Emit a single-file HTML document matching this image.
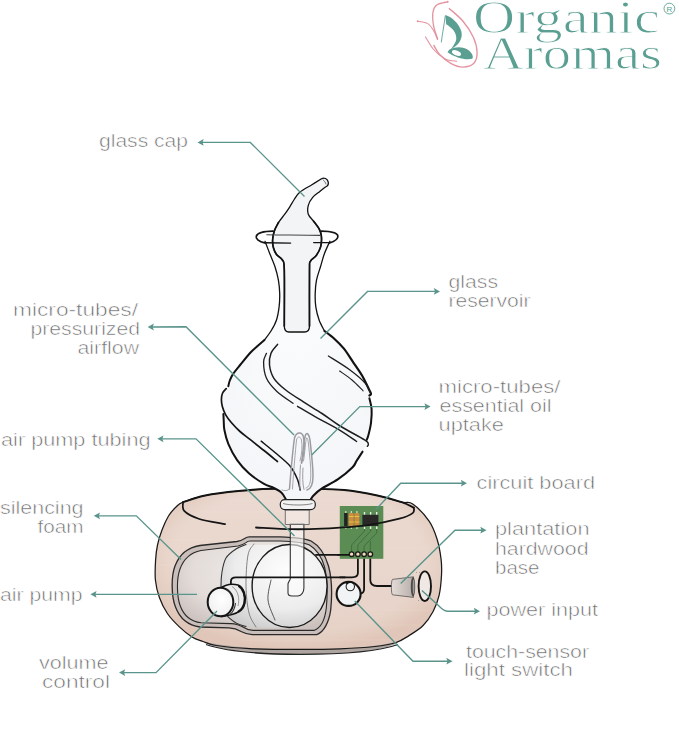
<!DOCTYPE html>
<html><head><meta charset="utf-8">
<style>
html,body{margin:0;padding:0;background:#fff;width:679px;height:748px;overflow:hidden}
svg{display:block}
.lb{font-family:"Liberation Sans",sans-serif;font-size:19px;fill:#6a6a6a;stroke:#fff;stroke-width:0.6;paint-order:normal;opacity:0.999}
.logo{font-family:"Liberation Serif",serif;font-size:46px;fill:#5a9f92;stroke:#fff;stroke-width:1.0}
.ln{fill:none;stroke:#5a948b;stroke-width:1.35;stroke-linejoin:miter}
.ar{fill:#5a948b}
.ol{fill:none;stroke:#121212;stroke-width:2.1;stroke-linecap:round;stroke-linejoin:round}
.md{fill:none;stroke:#141414;stroke-width:1.5;stroke-linecap:round;stroke-linejoin:round}
.th{fill:none;stroke:#1e1e1e;stroke-width:1.05;stroke-linecap:round}
.gt{fill:none;stroke:#9c9ca0;stroke-width:1.5;stroke-linecap:round;stroke-linejoin:round}
</style></head><body>
<svg width="679" height="748" viewBox="0 0 679 748">
<defs>
<linearGradient id="wood" x1="0" y1="0" x2="0" y2="1">
<stop offset="0" stop-color="#ebdad1"/><stop offset="0.5" stop-color="#e9d6cc"/><stop offset="1" stop-color="#e6d1c6"/>
</linearGradient>
<radialGradient id="woodEdge" cx="0.5" cy="0.45" r="0.55">
<stop offset="0.8" stop-color="#d9b9a8" stop-opacity="0"/><stop offset="1" stop-color="#d4b09e" stop-opacity="0.35"/>
</radialGradient>
<radialGradient id="glass" cx="0.5" cy="0.25" r="0.9">
<stop offset="0" stop-color="#fbfcfd"/><stop offset="1" stop-color="#f2f4f7"/>
</radialGradient>
<radialGradient id="foam" cx="0.55" cy="0.35" r="0.75">
<stop offset="0" stop-color="#f0edeb"/><stop offset="0.6" stop-color="#e3dcd9"/><stop offset="1" stop-color="#c6bcb8"/>
</radialGradient>
<radialGradient id="pump" cx="0.62" cy="0.3" r="0.8">
<stop offset="0" stop-color="#fdfdfd"/><stop offset="0.6" stop-color="#ececec"/><stop offset="1" stop-color="#c9c9c9"/>
</radialGradient>
<radialGradient id="knob" cx="0.55" cy="0.4" r="0.65">
<stop offset="0" stop-color="#ffffff"/><stop offset="0.8" stop-color="#f2f2f2"/><stop offset="1" stop-color="#d0d0d0"/>
</radialGradient>
<linearGradient id="cone" x1="0" y1="0" x2="1" y2="0">
<stop offset="0" stop-color="#e4dcd8"/><stop offset="1" stop-color="#b9aea9"/>
</linearGradient>
</defs>
<g id="logo">
<text class="logo" x="473" y="33.3" textLength="187" lengthAdjust="spacingAndGlyphs">Organic</text>
<text class="logo" x="483" y="69" textLength="179" lengthAdjust="spacingAndGlyphs">Aromas</text>
<circle cx="669.4" cy="8.6" r="5.4" fill="none" stroke="#5b9f92" stroke-width="0.9"/>
<text x="669.4" y="11.8" text-anchor="middle" font-family="Liberation Sans" font-size="8" fill="#5b9f92">R</text>
<path d="M447.70,1.80 C445.93,2.28 439.55,3.03 437.10,4.70 C434.65,6.37 433.58,8.27 433.00,11.80 C432.42,15.33 432.82,21.38 433.60,25.90 C434.38,30.42 437.02,36.73 437.70,38.90" fill="none" stroke="#e4939f" stroke-width="1.3"/>
<path d="M417.70,21.20 C419.37,21.60 425.05,22.03 427.70,23.60 C430.35,25.17 431.93,27.87 433.60,30.60 C435.27,33.33 437.02,38.43 437.70,40.00" fill="none" stroke="#e4939f" stroke-width="1.1"/>
<path d="M448.90,8.20 C451.25,10.37 458.88,16.28 463.00,21.20 C467.12,26.12 471.25,32.40 473.60,37.70 C475.95,43.00 477.10,48.68 477.10,53.00 C477.10,57.32 475.95,61.25 473.60,63.60 C471.25,65.95 466.73,67.10 463.00,67.10 C459.27,67.10 455.13,65.75 451.20,63.60 C447.27,61.45 442.33,57.33 439.40,54.20 C436.47,51.07 434.57,46.37 433.60,44.80" fill="none" stroke="#e4939f" stroke-width="1.35"/>
<path d="M425.30,36.50 C426.68,38.67 430.27,45.77 433.60,49.50 C436.93,53.23 441.38,56.95 445.30,58.90 C449.22,60.85 455.13,60.82 457.10,61.20" fill="none" stroke="#e4939f" stroke-width="1.1"/>
<circle cx="447.7" cy="1.8" r="1" fill="#e4939f"/><circle cx="417.7" cy="21.2" r="1" fill="#e4939f"/>
<path d="M445.3,15.1 C452,17 459.5,24 461.5,32 C463,40 457.5,46 450.8,49.2 C453.5,45.5 456.5,41.5 456.3,37.9 C456,32 453,28.5 446.2,24.2 Z" fill="#5b9f92"/>
<path d="M449.5,49.5 C455,46.5 463,46 469,50.5 C472.5,53.5 473.8,57.5 472,58.8 C466,60.5 455,57.5 447.5,52.2 C448.2,51 448.8,50.2 449.5,49.5 Z" fill="#5b9f92"/>
<ellipse cx="456.5" cy="53" rx="4.8" ry="2.4" transform="rotate(22 456.5 53)" fill="#fff"/>
<path d="M445.3,15.5 C444.3,24 442.3,34 441.3,42.4" fill="none" stroke="#5b9f92" stroke-width="0.9"/>
</g>
<path d="M183.10,502.10 C187.97,500.18 195.98,497.35 205.20,495.50 C214.42,493.65 227.35,492.12 238.40,491.00 C249.45,489.88 259.77,489.17 271.50,488.80 C283.23,488.43 296.68,488.60 308.80,488.80 C320.92,489.00 332.78,488.88 344.20,490.00 C355.62,491.12 367.73,493.48 377.30,495.50 C386.87,497.52 395.70,500.68 401.60,502.10 C407.50,503.52 408.12,500.83 412.70,504.00 C417.28,507.17 425.03,515.23 429.10,521.10 C433.17,526.97 435.10,532.83 437.10,539.20 C439.10,545.57 440.37,553.28 441.10,559.30 C441.83,565.32 441.83,569.28 441.50,575.30 C441.17,581.32 440.50,589.37 439.10,595.40 C437.70,601.43 435.77,606.48 433.10,611.50 C430.43,616.52 427.12,621.48 423.10,625.50 C419.08,629.52 413.52,632.77 409.00,635.60 C404.48,638.43 401.67,640.68 396.00,642.50 C390.33,644.32 384.33,645.45 375.00,646.50 C365.67,647.55 352.50,648.32 340.00,648.80 C327.50,649.28 315.10,649.43 300.00,649.40 C284.90,649.37 263.35,649.25 249.40,648.60 C235.45,647.95 224.03,646.68 216.30,645.50 C208.57,644.32 207.05,642.92 203.00,641.50 C198.95,640.08 195.93,639.43 192.00,637.00 C188.07,634.57 183.50,630.82 179.40,626.90 C175.30,622.98 170.73,618.40 167.40,613.50 C164.07,608.60 161.40,603.08 159.40,597.50 C157.40,591.92 156.03,586.25 155.40,580.00 C154.77,573.75 155.25,565.83 155.60,560.00 C155.95,554.17 156.43,550.00 157.50,545.00 C158.57,540.00 160.17,534.83 162.00,530.00 C163.83,525.17 166.17,519.83 168.50,516.00 C170.83,512.17 173.57,509.32 176.00,507.00 C178.43,504.68 178.23,504.02 183.10,502.10 Z" fill="url(#wood)"/>
<path d="M183.10,502.10 C187.97,500.18 195.98,497.35 205.20,495.50 C214.42,493.65 227.35,492.12 238.40,491.00 C249.45,489.88 259.77,489.17 271.50,488.80 C283.23,488.43 296.68,488.60 308.80,488.80 C320.92,489.00 332.78,488.88 344.20,490.00 C355.62,491.12 367.73,493.48 377.30,495.50 C386.87,497.52 395.70,500.68 401.60,502.10 C407.50,503.52 408.12,500.83 412.70,504.00 C417.28,507.17 425.03,515.23 429.10,521.10 C433.17,526.97 435.10,532.83 437.10,539.20 C439.10,545.57 440.37,553.28 441.10,559.30 C441.83,565.32 441.83,569.28 441.50,575.30 C441.17,581.32 440.50,589.37 439.10,595.40 C437.70,601.43 435.77,606.48 433.10,611.50 C430.43,616.52 427.12,621.48 423.10,625.50 C419.08,629.52 413.52,632.77 409.00,635.60 C404.48,638.43 401.67,640.68 396.00,642.50 C390.33,644.32 384.33,645.45 375.00,646.50 C365.67,647.55 352.50,648.32 340.00,648.80 C327.50,649.28 315.10,649.43 300.00,649.40 C284.90,649.37 263.35,649.25 249.40,648.60 C235.45,647.95 224.03,646.68 216.30,645.50 C208.57,644.32 207.05,642.92 203.00,641.50 C198.95,640.08 195.93,639.43 192.00,637.00 C188.07,634.57 183.50,630.82 179.40,626.90 C175.30,622.98 170.73,618.40 167.40,613.50 C164.07,608.60 161.40,603.08 159.40,597.50 C157.40,591.92 156.03,586.25 155.40,580.00 C154.77,573.75 155.25,565.83 155.60,560.00 C155.95,554.17 156.43,550.00 157.50,545.00 C158.57,540.00 160.17,534.83 162.00,530.00 C163.83,525.17 166.17,519.83 168.50,516.00 C170.83,512.17 173.57,509.32 176.00,507.00 C178.43,504.68 178.23,504.02 183.10,502.10 Z" fill="url(#woodEdge)"/>
<path d="M230,500 L380,500" stroke="#fbf2ec" stroke-opacity="0.125" stroke-width="1.5"/>
<path d="M200,512 L400,512" stroke="#fbf2ec" stroke-opacity="0.1" stroke-width="1.5"/>
<path d="M165,540 L230,540" stroke="#fbf2ec" stroke-opacity="0.1" stroke-width="1.5"/>
<path d="M340,548 L430,548" stroke="#fbf2ec" stroke-opacity="0.09" stroke-width="1.5"/>
<path d="M160,565 L175,565" stroke="#fbf2ec" stroke-opacity="0.1" stroke-width="1.5"/>
<path d="M350,610 L430,610" stroke="#fbf2ec" stroke-opacity="0.09" stroke-width="1.5"/>
<path d="M380,625 L420,625" stroke="#fbf2ec" stroke-opacity="0.075" stroke-width="1.5"/>
<path d="M240,640 L400,640" stroke="#fbf2ec" stroke-opacity="0.09" stroke-width="1.5"/>
<path d="M203,641.5 C228,647 262,649.4 300,649.4 C345,649.4 378,647 400,641 C390,650 350,654.5 300,654.5 C255,654.5 220,651 203,641.5 Z" fill="#aea4a0"/>
<path d="M183.10,502.10 C187.97,500.18 195.98,497.35 205.20,495.50 C214.42,493.65 227.35,492.12 238.40,491.00 C249.45,489.88 259.77,489.17 271.50,488.80 C283.23,488.43 296.68,488.60 308.80,488.80 C320.92,489.00 332.78,488.88 344.20,490.00 C355.62,491.12 367.73,493.48 377.30,495.50 C386.87,497.52 395.70,500.68 401.60,502.10 C407.50,503.52 408.12,500.83 412.70,504.00 C417.28,507.17 425.03,515.23 429.10,521.10 C433.17,526.97 435.10,532.83 437.10,539.20 C439.10,545.57 440.37,553.28 441.10,559.30 C441.83,565.32 441.83,569.28 441.50,575.30 C441.17,581.32 440.50,589.37 439.10,595.40 C437.70,601.43 435.77,606.48 433.10,611.50 C430.43,616.52 427.12,621.48 423.10,625.50 C419.08,629.52 413.52,632.77 409.00,635.60 C404.48,638.43 401.67,640.68 396.00,642.50 C390.33,644.32 384.33,645.45 375.00,646.50 C365.67,647.55 352.50,648.32 340.00,648.80 C327.50,649.28 315.10,649.43 300.00,649.40 C284.90,649.37 263.35,649.25 249.40,648.60 C235.45,647.95 224.03,646.68 216.30,645.50 C208.57,644.32 207.05,642.92 203.00,641.50 C198.95,640.08 195.93,639.43 192.00,637.00 C188.07,634.57 183.50,630.82 179.40,626.90 C175.30,622.98 170.73,618.40 167.40,613.50 C164.07,608.60 161.40,603.08 159.40,597.50 C157.40,591.92 156.03,586.25 155.40,580.00 C154.77,573.75 155.25,565.83 155.60,560.00 C155.95,554.17 156.43,550.00 157.50,545.00 C158.57,540.00 160.17,534.83 162.00,530.00 C163.83,525.17 166.17,519.83 168.50,516.00 C170.83,512.17 173.57,509.32 176.00,507.00 C178.43,504.68 178.23,504.02 183.10,502.10 Z" fill="none" stroke="#1a1a1a" stroke-width="1.25"/>
<path d="M206,644.5 C228,652 262,654.3 300,654.3 C345,654.3 380,651 398,644.5" fill="none" stroke="#222" stroke-width="1.3"/>
<path d="M183.10,502.10 C186.78,501.00 195.98,497.35 205.20,495.50 C214.42,493.65 227.35,492.12 238.40,491.00 C249.45,489.88 259.77,489.17 271.50,488.80 C283.23,488.43 296.68,488.60 308.80,488.80 C320.92,489.00 332.78,488.88 344.20,490.00 C355.62,491.12 367.73,493.48 377.30,495.50 C386.87,497.52 395.52,500.08 401.60,502.10 C407.68,504.12 411.77,506.68 413.80,507.60" class="md" style="stroke-width:1.9"/>
<path d="M183.10,502.10 C183.28,503.57 181.62,508.13 184.20,510.90 C186.78,513.67 191.78,516.48 198.60,518.70 C205.42,520.92 220.68,523.28 225.10,524.20" class="md" style="stroke-width:1.7"/>
<path d="M249.5,536.8 L280,536.8 C296,537.5 306,538.5 311.1,541 C320,546 325,554 328.5,566 C331.5,577 332.5,592 330.7,610 C329,622 324,632 316.7,634.7 L252.3,634.7 C247,634.5 244,633 241.1,631.5 C237,629 234,628 229,627.8 L200,627 C189,625.5 180,619 175.5,607 C171.5,597 170.8,577 175,566 C180,553 188,547.5 200,545.5 L237,541.5 C241,540.8 243,539.5 245,538.3 C246.5,537.2 248,536.8 249.5,536.8 Z" fill="#c9beba" stroke="#2a2a2a" stroke-width="1.3"/>
<path d="M250,541 L280,541 C295,541.5 304,542.5 309.5,545 C317,549.5 321.5,556 324.5,567 C327,577 327.8,592 326.3,608 C325,619 321,628 314,630.4 L253,630.4 C248,630 245.5,628.8 243,627 C239.5,624.8 236,623.8 231,623.6 L201,622.8 C191,621.5 184,616 180.3,606 C176.8,597 176.3,579 180,569 C184,558 191,552.5 201,550.5 L238,546 C242,545.4 244,544 246,542.6 C247.3,541.5 248.6,541 250,541 Z" fill="url(#foam)" stroke="#2a2a2a" stroke-width="1.1"/>
<path d="M222,566 C226,553 235,546 250,545 L290,544.6 C312,546 327,564 327,586 C327,608 312,627 290,628 L250,627 C236,626 226,620 222,609 C219,597 219,578 222,566 Z" fill="url(#pump)"/>
<path d="M246.00,544.50 C244.33,545.25 239.33,546.75 236.00,549.00 C232.67,551.25 228.33,554.17 226.00,558.00 C223.67,561.83 222.83,567.33 222.00,572.00 C221.17,576.67 221.00,581.33 221.00,586.00 C221.00,590.67 221.17,595.33 222.00,600.00 C222.83,604.67 223.67,610.17 226.00,614.00 C228.33,617.83 232.67,620.92 236.00,623.00 C239.33,625.08 244.33,625.92 246.00,626.50" class="th" style="stroke:#333"/>
<path d="M254.00,544.00 C253.00,545.83 249.33,548.00 248.00,555.00 C246.67,562.00 245.83,576.33 246.00,586.00 C246.17,595.67 247.33,606.17 249.00,613.00 C250.67,619.83 254.83,624.67 256.00,627.00" class="th" style="stroke:#666;stroke-width:0.8"/>
<ellipse cx="289.6" cy="586" rx="37.5" ry="41.5" fill="none" stroke="#1a1a1a" stroke-width="1.4"/>
<path d="M271.00,580.00 C270.50,583.33 267.33,593.33 268.00,600.00 C268.67,606.67 273.83,616.67 275.00,620.00" class="th" style="stroke:#444;stroke-width:0.9"/>
<path d="M290.3,524 L290.3,578.5 C290.3,580.5 288,581.5 288,584.5 L288,593 C288,595.5 289.5,596 292,596 L298,596 C301.5,595.5 303.9,592 303.9,588 L303.9,524 Z" fill="#fbfbfb" fill-opacity="0.6" stroke="#333" stroke-width="1.1"/>
<path d="M285.3,510 L285.3,524.5 L309.2,524.5 L309.2,510 Z" fill="#f6efec" fill-opacity="0.55" stroke="#666" stroke-width="0.9"/>
<path d="M345,577.3 L236,577.3 C232.5,577.3 230.9,578.5 230.9,581.5 L230.9,584" class="md" style="stroke-width:1.8"/>
<path d="M316,554.8 L349.5,554.8" class="md" style="stroke-width:1.8"/>
<path d="M357.9,556 L357.9,573 C357.9,576 356,577.3 352,577.3 L340,577.3" class="md" style="stroke-width:1.8"/>
<path d="M364.1,556 L364.1,589 C364.1,592 362.5,593.5 360,593.5" class="md" style="stroke-width:1.8"/>
<path d="M370.3,556 L370.3,580 C370.3,584 373,586 377,586 L392,586" class="md" style="stroke-width:1.8"/>
<rect x="339.8" y="506" width="43.5" height="52.8" fill="#5a8c54"/>
<rect x="344.1" y="513" width="3.5" height="13" fill="#222"/>
<rect x="348.9" y="513" width="4.8" height="13" rx="1.2" fill="#d08a3a"/><rect x="354.5" y="513" width="4.8" height="13" rx="1.2" fill="#d08a3a"/>
<path d="M348.9,516.5 h4.8 M348.9,522 h4.8 M354.5,516.5 h4.8 M354.5,522 h4.8" stroke="#e6c24a" stroke-width="1.1"/>
<rect x="362.4" y="514.8" width="16" height="11.2" fill="#2a2727"/>
<rect x="363.8" y="512" width="1.4" height="2.6" fill="#e8efe4"/><rect x="363.8" y="526.4" width="1.4" height="2.6" fill="#e8efe4"/>
<rect x="369.90000000000003" y="512" width="1.4" height="2.6" fill="#e8efe4"/><rect x="369.90000000000003" y="526.4" width="1.4" height="2.6" fill="#e8efe4"/>
<rect x="376.0" y="512" width="1.4" height="2.6" fill="#e8efe4"/><rect x="376.0" y="526.4" width="1.4" height="2.6" fill="#e8efe4"/>
<rect x="345.2" y="511" width="1.2" height="2" fill="#cfe0c8"/><rect x="345.2" y="527" width="1.2" height="2" fill="#cfe0c8"/>
<rect x="350.7" y="511" width="1.2" height="2" fill="#cfe0c8"/><rect x="350.7" y="527" width="1.2" height="2" fill="#cfe0c8"/>
<rect x="356.29999999999995" y="511" width="1.2" height="2" fill="#cfe0c8"/><rect x="356.29999999999995" y="527" width="1.2" height="2" fill="#cfe0c8"/>
<path d="M351.6,552 L351.6,545 L364.5,531 L364.5,529 M357.9,552 L357.9,545 L370.6,531 L370.6,529 M364.1,552 L364.1,546 L376.7,533 L376.7,529 M370.3,552 L370.3,541" fill="none" stroke="#2f5e2c" stroke-width="0.6"/>
<path d="M338,554.8 L349.5,554.8" class="md" style="stroke-width:1.8"/>
<path d="M256.00,527.50 C261.90,527.78 280.38,529.02 291.40,529.20 C302.42,529.38 309.62,529.25 322.10,528.60 C334.58,527.95 353.42,526.95 366.30,525.30 C379.18,523.65 391.67,520.73 399.40,518.70 C407.13,516.67 410.30,514.95 412.70,513.10 C415.10,511.25 413.62,508.52 413.80,507.60" class="md" style="stroke-width:1.8"/>
<circle cx="351.6" cy="554.2" r="2.3" fill="#f0dcb8" stroke="#1a1a1a" stroke-width="1.3"/>
<circle cx="357.9" cy="554.2" r="2.3" fill="#f0dcb8" stroke="#1a1a1a" stroke-width="1.3"/>
<circle cx="364.1" cy="554.2" r="2.3" fill="#f0dcb8" stroke="#1a1a1a" stroke-width="1.3"/>
<circle cx="370.3" cy="554.2" r="2.3" fill="#f0dcb8" stroke="#1a1a1a" stroke-width="1.3"/>
<circle cx="348.6" cy="593.9" r="12" fill="#f1f3f5" stroke="#141414" stroke-width="2.1"/>
<circle cx="350.3" cy="586.6" r="4.2" fill="#f4f6f8" stroke="#222" stroke-width="1.1"/>
<path d="M346.5,584 C348,581.5 352,581.5 354,583.5" fill="none" stroke="#141414" stroke-width="1.6"/>
<path d="M392.5,579.4 L413.5,576.8 L413.5,597.4 L392.5,594.8 C391,594 391,580.5 392.5,579.4 Z" fill="url(#cone)" stroke="#555" stroke-width="0.8"/>
<ellipse cx="413" cy="586.8" rx="2.2" ry="9.8" fill="#4a4a4a"/>
<ellipse cx="413.6" cy="586.8" rx="0.9" ry="7.5" fill="#9a9a9a"/>
<ellipse cx="424.8" cy="586.2" rx="6.2" ry="14.8" fill="#efe8e5" stroke="#141414" stroke-width="1.9"/>
<path d="M416,572.5 h1 M419,572.5 h1 M418,600.5 h1 M421,600.5 h1" stroke="#888" stroke-width="0.7"/>
<path d="M219,589 C225,584.5 232,583.2 238,585 C243.5,587.5 246,596 244.5,603 C243,609.5 238,613 232,614.5 L222,616.5 Z" fill="#ececec" stroke="#141414" stroke-width="1.5"/>
<path d="M238.5,585.8 C243.5,588.5 246,596 244.5,603 C243.5,607.5 241,610.5 238,612" fill="none" stroke="#141414" stroke-width="2.4"/>
<path d="M232,586.5 C238,590 240,599 238,606" fill="none" stroke="#777" stroke-width="0.7"/>
<ellipse cx="220.5" cy="602" rx="12.8" ry="14.3" fill="url(#knob)" stroke="#141414" stroke-width="2"/>
<path d="M226.5,589.5 C230,591.5 231.5,595 231.5,597" fill="none" stroke="#444" stroke-width="0.8"/>
<path d="M235.5,603 C235,608 233,612 230,614.5" fill="none" stroke="#333" stroke-width="1.1"/>
<path d="M265.00,241.30 C265.78,243.32 268.03,249.17 269.70,253.40 C271.37,257.63 273.55,262.25 275.00,266.70 C276.45,271.15 277.62,275.63 278.40,280.10 C279.18,284.57 279.58,289.05 279.70,293.50 C279.82,297.95 279.65,302.35 279.10,306.80 C278.55,311.25 277.75,316.17 276.40,320.20 C275.05,324.23 273.00,327.70 271.00,331.00 C269.00,334.30 266.73,337.42 264.40,340.00 C262.07,342.58 259.35,344.38 257.00,346.50 C254.65,348.62 253.05,349.70 250.30,352.70 C247.55,355.70 243.37,360.97 240.50,364.50 C237.63,368.03 234.88,371.23 233.10,373.90 C231.32,376.57 230.60,378.45 229.80,380.50 C229.00,382.55 229.50,384.12 228.30,386.20 C227.10,388.28 223.75,390.80 222.60,393.00 C221.45,395.20 221.43,397.10 221.40,399.40 C221.37,401.70 222.07,404.35 222.40,406.80 C222.73,409.25 223.18,411.88 223.40,414.10 C223.62,416.32 223.53,417.45 223.70,420.10 C223.87,422.75 223.63,426.03 224.40,430.00 C225.17,433.97 226.18,438.88 228.30,443.90 C230.42,448.92 233.67,455.20 237.10,460.10 C240.53,465.00 244.48,469.38 248.90,473.30 C253.32,477.22 259.43,481.15 263.60,483.60 C267.77,486.05 270.95,486.52 273.90,488.00 C276.85,489.48 279.33,490.67 281.30,492.50 C283.27,494.33 280.75,497.92 285.70,499.00 C290.65,500.08 306.28,499.67 311.00,499.00 C315.72,498.33 312.28,496.70 314.00,495.00 C315.72,493.30 317.28,491.43 321.30,488.80 C325.32,486.17 332.88,482.80 338.10,479.20 C343.32,475.60 349.53,470.23 352.60,467.20 C355.67,464.17 354.85,463.58 356.50,461.00 C358.15,458.42 360.92,454.37 362.50,451.70 C364.08,449.03 365.30,446.97 366.00,445.00 C366.70,443.03 366.32,441.47 366.70,439.90 C367.08,438.33 367.58,438.45 368.30,435.60 C369.02,432.75 370.45,427.25 371.00,422.80 C371.55,418.35 371.87,413.00 371.60,408.90 C371.33,404.80 369.50,400.70 369.40,398.20 C369.30,395.70 371.00,395.23 371.00,393.90 C371.00,392.57 370.87,393.23 369.40,390.20 C367.93,387.17 365.00,380.52 362.20,375.70 C359.40,370.88 355.68,365.85 352.60,361.30 C349.52,356.75 346.80,352.20 343.70,348.40 C340.60,344.60 337.20,341.40 334.00,338.50 C330.80,335.60 326.97,334.05 324.50,331.00 C322.03,327.95 320.65,324.23 319.20,320.20 C317.75,316.17 316.47,311.25 315.80,306.80 C315.13,302.35 315.08,297.95 315.20,293.50 C315.32,289.05 315.62,284.57 316.50,280.10 C317.38,275.63 319.17,271.15 320.50,266.70 C321.83,262.25 322.93,257.63 324.50,253.40 C326.07,249.17 329.00,243.32 329.90,241.30 Z" fill="url(#glass)"/>
<path d="M265.00,241.30 C265.78,243.32 268.03,249.17 269.70,253.40 C271.37,257.63 273.55,262.25 275.00,266.70 C276.45,271.15 277.62,275.63 278.40,280.10 C279.18,284.57 279.58,289.05 279.70,293.50 C279.82,297.95 279.65,302.35 279.10,306.80 C278.55,311.25 277.75,316.17 276.40,320.20 C275.05,324.23 273.00,327.70 271.00,331.00 C269.00,334.30 265.50,338.50 264.40,340.00" class="ol" style="stroke-width:1.3"/>
<path d="M264.40,340.00 C263.17,341.08 259.35,344.38 257.00,346.50 C254.65,348.62 253.05,349.70 250.30,352.70 C247.55,355.70 243.37,360.97 240.50,364.50 C237.63,368.03 234.88,371.23 233.10,373.90 C231.32,376.57 230.60,378.45 229.80,380.50 C229.00,382.55 228.55,385.25 228.30,386.20" class="ol" style="stroke-width:2"/>
<path d="M223.40,414.10 C223.45,415.10 223.53,417.45 223.70,420.10 C223.87,422.75 223.63,426.03 224.40,430.00 C225.17,433.97 226.18,438.88 228.30,443.90 C230.42,448.92 233.67,455.20 237.10,460.10 C240.53,465.00 244.48,469.38 248.90,473.30 C253.32,477.22 259.43,481.15 263.60,483.60 C267.77,486.05 270.95,486.52 273.90,488.00 C276.85,489.48 279.33,490.67 281.30,492.50 C283.27,494.33 284.97,497.92 285.70,499.00" class="ol" style="stroke-width:2"/>
<path d="M311.00,499.00 C311.50,498.33 312.28,496.70 314.00,495.00 C315.72,493.30 317.28,491.43 321.30,488.80 C325.32,486.17 332.88,482.80 338.10,479.20 C343.32,475.60 349.53,470.23 352.60,467.20 C355.67,464.17 354.85,463.58 356.50,461.00 C358.15,458.42 361.50,453.25 362.50,451.70" class="ol" style="stroke-width:2.1"/>
<path d="M366.70,439.90 C366.97,439.18 367.58,438.45 368.30,435.60 C369.02,432.75 370.45,427.25 371.00,422.80 C371.55,418.35 371.87,413.00 371.60,408.90 C371.33,404.80 369.77,399.98 369.40,398.20" class="ol" style="stroke-width:2"/>
<path d="M369.40,395.50 C369.67,395.23 371.00,394.78 371.00,393.90 C371.00,393.02 370.87,393.23 369.40,390.20 C367.93,387.17 365.00,380.52 362.20,375.70 C359.40,370.88 355.68,365.85 352.60,361.30 C349.52,356.75 346.80,352.20 343.70,348.40 C340.60,344.60 337.20,341.40 334.00,338.50 C330.80,335.60 326.08,332.25 324.50,331.00" class="ol" style="stroke-width:2.2"/>
<path d="M324.50,331.00 C323.62,329.20 320.65,324.23 319.20,320.20 C317.75,316.17 316.47,311.25 315.80,306.80 C315.13,302.35 315.08,297.95 315.20,293.50 C315.32,289.05 315.62,284.57 316.50,280.10 C317.38,275.63 319.17,271.15 320.50,266.70 C321.83,262.25 322.93,257.63 324.50,253.40 C326.07,249.17 329.00,243.32 329.90,241.30" class="ol" style="stroke-width:1.3"/>
<path d="M266.50,353.30 C266.02,354.77 263.60,357.93 263.60,362.10 C263.60,366.27 264.28,373.40 266.50,378.30 C268.72,383.20 272.48,387.33 276.90,391.50 C281.32,395.67 290.32,401.33 293.00,403.30" class="th" style="stroke-width:1.3"/>
<path d="M297.50,406.30 C300.42,408.02 307.92,412.60 315.00,416.60 C322.08,420.60 333.07,426.15 340.00,430.30 C346.93,434.45 353.83,439.63 356.60,441.50" class="th" style="stroke-width:1.4"/>
<path d="M277.60,344.40 C276.50,345.88 272.35,349.87 271.00,353.30 C269.65,356.73 269.02,360.83 269.50,365.00 C269.98,369.17 271.20,374.13 273.90,378.30 C276.60,382.47 280.78,386.07 285.70,390.00 C290.62,393.93 297.35,397.98 303.40,401.90 C309.45,405.82 315.90,409.48 322.00,413.50 C328.10,417.52 332.90,421.60 340.00,426.00 C347.10,430.40 359.88,436.87 364.60,439.90 C369.32,442.93 367.85,443.13 368.30,444.20 C368.75,445.27 367.47,445.95 367.30,446.30" class="th" style="stroke-width:1.5"/>
<path d="M328.40,356.00 C332.00,358.33 343.85,365.45 350.00,370.00 C356.15,374.55 361.87,379.40 365.30,383.30 C368.73,387.20 369.72,391.72 370.60,393.40" class="th" style="stroke-width:1.3"/>
<path d="M339.60,371.00 C341.67,372.50 348.08,376.70 352.00,380.00 C355.92,383.30 361.25,389.00 363.10,390.80" class="th" style="stroke-width:1.1"/>
<path d="M226.20,388.60 C225.60,389.33 223.40,391.20 222.60,393.00 C221.80,394.80 221.43,397.10 221.40,399.40 C221.37,401.70 221.68,404.23 222.40,406.80 C223.12,409.37 224.22,412.18 225.70,414.80 C227.18,417.42 228.92,419.72 231.30,422.50 C233.68,425.28 236.88,428.68 240.00,431.50 C243.12,434.32 246.00,436.23 250.00,439.40 C254.00,442.57 259.43,446.82 264.00,450.50 C268.57,454.18 275.17,459.67 277.40,461.50" class="md" style="stroke-width:1.7"/>
<path d="M261.20,441.20 C263.50,443.08 270.20,448.37 275.00,452.50 C279.80,456.63 286.25,461.50 290.00,466.00 C293.75,470.50 295.80,475.50 297.50,479.50 C299.20,483.50 299.75,488.25 300.20,490.00" class="md" style="stroke-width:1.5"/>
<path d="M289.5,489 C291,470 293,448 294.5,438 C296,432 302,431 303.5,437 C305,445 304,455 301.5,463" class="gt"/>
<path d="M292.5,489 C293.5,472 295.5,450 296.5,440 C297.5,436 300.5,436 301.5,440 C302.5,446 302,454 300,461" class="gt" style="stroke-width:0.9"/>
<path d="M301.5,463 C303,455 303.5,440 305.5,435 C307,432 309,434 310,440 C311,450 313,465 313,476 C313,484 311,489 307,490" class="gt"/>
<path d="M303.5,461 C305,452 305.5,441 306.5,438 C307.5,437 308,440 308.5,444 C309.5,455 311,466 310.8,476 C310.5,484 309,487 306,488" class="gt" style="stroke-width:0.9"/>
<path d="M300.5,465 C300,472 299.5,480 300,489 M303,468 C302.5,476 302.5,484 304,489.5" class="gt" style="stroke-width:1"/>
<path d="M289.5,489 C287.5,491 284,491 282,490" class="gt" style="stroke-width:0.9"/>
<rect x="280.3" y="499.6" width="35" height="10" rx="4.5" fill="#f2f2f2" stroke="#222" stroke-width="1.2"/>
<path d="M283,503.5 C290,505.5 306,505.5 312.5,503.5" fill="none" stroke="#666" stroke-width="0.8"/>
<path d="M321.50,178.80 C319.90,179.78 315.48,182.50 311.90,184.70 C308.32,186.90 302.95,189.53 300.00,192.00 C297.05,194.47 295.90,197.03 294.20,199.50 C292.50,201.97 291.37,204.35 289.80,206.80 C288.23,209.25 286.68,211.58 284.80,214.20 C282.92,216.82 280.25,219.70 278.50,222.50 C276.75,225.30 275.28,228.08 274.30,231.00 C273.32,233.92 272.73,237.17 272.60,240.00 C272.47,242.83 272.85,245.58 273.50,248.00 C274.15,250.42 275.02,252.50 276.50,254.50 C277.98,256.50 281.10,257.42 282.40,260.00 C283.70,262.58 283.98,259.00 284.30,270.00 C284.62,281.00 284.30,316.67 284.30,326.00 C284.3,330 286,332 289,332 L304.5,332 C307.5,332 309.5,330 309.5,326 C309.50,316.67 309.35,280.78 309.50,270.00 C309.65,259.22 309.27,263.73 310.40,261.30 C311.53,258.87 314.58,257.85 316.30,255.40 C318.02,252.95 319.85,249.78 320.70,246.60 C321.55,243.42 321.65,239.23 321.40,236.30 C321.15,233.37 320.50,231.52 319.20,229.00 C317.90,226.48 315.42,223.67 313.60,221.20 C311.78,218.73 309.18,216.85 308.30,214.20 C307.42,211.55 307.57,208.10 308.30,205.30 C309.03,202.50 310.78,199.70 312.70,197.40 C314.62,195.10 317.67,193.23 319.80,191.50 C321.93,189.77 324.55,187.75 325.50,187.00 C327,186.5 328.8,185 328.2,182 C327.5,178.5 324,177.2 321.5,178.8 Z" fill="#f2f4f6"/>
<path d="M321.50,178.80 C319.90,179.78 315.48,182.50 311.90,184.70 C308.32,186.90 302.95,189.53 300.00,192.00 C297.05,194.47 295.90,197.03 294.20,199.50 C292.50,201.97 291.37,204.35 289.80,206.80 C288.23,209.25 286.68,211.58 284.80,214.20 C282.92,216.82 280.25,219.70 278.50,222.50 C276.75,225.30 275.28,228.08 274.30,231.00 C273.32,233.92 272.73,237.17 272.60,240.00 C272.47,242.83 272.85,245.58 273.50,248.00 C274.15,250.42 275.02,252.50 276.50,254.50 C277.98,256.50 281.10,257.42 282.40,260.00 C283.70,262.58 283.98,259.00 284.30,270.00 C284.62,281.00 284.30,316.67 284.30,326.00 C284.3,330 286,332 289,332 L304.5,332 C307.5,332 309.5,330 309.5,326 C309.50,316.67 309.35,280.78 309.50,270.00 C309.65,259.22 309.27,263.73 310.40,261.30 C311.53,258.87 314.58,257.85 316.30,255.40 C318.02,252.95 319.85,249.78 320.70,246.60 C321.55,243.42 321.65,239.23 321.40,236.30 C321.15,233.37 320.50,231.52 319.20,229.00 C317.90,226.48 315.42,223.67 313.60,221.20 C311.78,218.73 309.18,216.85 308.30,214.20 C307.42,211.55 307.57,208.10 308.30,205.30 C309.03,202.50 310.78,199.70 312.70,197.40 C314.62,195.10 317.67,193.23 319.80,191.50 C321.93,189.77 324.55,187.75 325.50,187.00 C327,186.5 328.8,185 328.2,182 C327.5,178.5 324,177.2 321.5,178.8 Z" class="ol" style="stroke-width:1.3"/>
<path d="M278.50,222.50 C277.80,223.92 275.28,228.08 274.30,231.00 C273.32,233.92 272.73,237.17 272.60,240.00 C272.47,242.83 272.85,245.58 273.50,248.00 C274.15,250.42 275.02,252.50 276.50,254.50 C277.98,256.50 281.10,257.42 282.40,260.00 C283.70,262.58 283.98,259.00 284.30,270.00 C284.62,281.00 284.30,316.67 284.30,326.00" class="ol" style="stroke-width:1.7"/>
<path d="M309.50,326.00 C309.50,316.67 309.35,280.78 309.50,270.00 C309.65,259.22 309.27,263.73 310.40,261.30 C311.53,258.87 314.58,257.85 316.30,255.40 C318.02,252.95 319.85,249.78 320.70,246.60 C321.55,243.42 321.65,239.23 321.40,236.30 C321.15,233.37 320.50,231.52 319.20,229.00 C317.90,226.48 314.53,222.50 313.60,221.20" class="ol" style="stroke-width:1.7"/>
<path d="M322.8,179.6 C324.5,181 325.6,182.6 326,184.4" fill="none" stroke="#555" stroke-width="0.8"/>
<path d="M265.4,243.1 C258,241.5 255.5,238.5 256.3,236.1 C257.5,232.8 265,231.3 273,231.2" class="md" style="stroke-width:1.7"/>
<path d="M321.5,231.2 C330,231.3 337.3,233 337.9,236.1 C338.3,239 334,241.5 329,243.1" class="md" style="stroke-width:1.7"/>
<path d="M266.8,234.7 C285,235 305,235 320,235.4" class="th" style="stroke:#444;stroke-width:1.1"/>
<path d="M266,242.8 L290.6,243.1 M313.7,242.6 L329,242.6" class="md" style="stroke-width:1.4"/>
<path class="ln" d="M202.0,142.4 L250.3,142.4 L304.5,196.5"/>
<path class="ar" d="M197.5,142.4 L203.70,139.00 L202.50,142.40 L203.70,145.80 Z"/>
<path class="ln" d="M152.2,327.0 L186.0,326.8 L294.0,435.0"/>
<path class="ar" d="M147.7,327 L153.90,323.60 L152.70,327.00 L153.90,330.40 Z"/>
<path class="ln" d="M161.8,438.8 L196.0,438.8 L294.5,536.0"/>
<path class="ar" d="M157.3,438.8 L163.50,435.40 L162.30,438.80 L163.50,442.20 Z"/>
<path class="ln" d="M435.5,291.4 L367.5,291.4 L320.5,338.4"/>
<path class="ar" d="M440,291.4 L433.80,288.00 L435.00,291.40 L433.80,294.80 Z"/>
<path class="ln" d="M426.1,406.6 L359.8,406.6 L311.7,455.0"/>
<path class="ar" d="M430.6,406.6 L424.40,403.20 L425.60,406.60 L424.40,410.00 Z"/>
<path class="ln" d="M462.5,483.2 L400.7,483.2 L375.4,510.0"/>
<path class="ar" d="M467,483.2 L460.80,479.80 L462.00,483.20 L460.80,486.60 Z"/>
<path class="ln" d="M482.0,530.2 L455.0,530.2 L400.7,583.5"/>
<path class="ar" d="M486.5,530.2 L480.30,526.80 L481.50,530.20 L480.30,533.60 Z"/>
<path class="ln" d="M98.3,515.8 L136.3,515.8 L181.0,559.6"/>
<path class="ar" d="M93.8,515.8 L100.00,512.40 L98.80,515.80 L100.00,519.20 Z"/>
<path class="ln" d="M94.9,594.3 L197.0,594.3"/>
<path class="ar" d="M90.4,594.3 L96.60,590.90 L95.40,594.30 L96.60,597.70 Z"/>
<path class="ln" d="M123.5,672.6 L156.0,672.6 L217.0,611.0"/>
<path class="ar" d="M119,672.6 L125.20,669.20 L124.00,672.60 L125.20,676.00 Z"/>
<path class="ln" d="M475.5,611.2 L448,611.2 C444,611.2 442,609 439,606 L421.9,590.4"/>
<path class="ar" d="M480,611.2 L473.80,607.80 L475.00,611.20 L473.80,614.60 Z"/>
<path class="ln" d="M448,661.2 L413,661.2 L354.7,601"/>
<path class="ar" d="M452.5,661.2 L446.30,657.80 L447.50,661.20 L446.30,664.60 Z"/>
<g class="lb">
<text x="99.0" y="147.1" textLength="89.0" lengthAdjust="spacingAndGlyphs">glass cap</text>
<text x="13.0" y="315.7" textLength="125.0" lengthAdjust="spacingAndGlyphs">micro-tubes/</text>
<text x="30.5" y="334.5" textLength="109.5" lengthAdjust="spacingAndGlyphs">pressurized</text>
<text x="77.5" y="353.6" textLength="61.5" lengthAdjust="spacingAndGlyphs">airflow</text>
<text x="1.0" y="445.8" textLength="149.5" lengthAdjust="spacingAndGlyphs">air pump tubing</text>
<text x="448.5" y="288" textLength="49.5" lengthAdjust="spacingAndGlyphs">glass</text>
<text x="448.5" y="307.1" textLength="82.0" lengthAdjust="spacingAndGlyphs">reservoir</text>
<text x="438.5" y="393.2" textLength="122.0" lengthAdjust="spacingAndGlyphs">micro-tubes/</text>
<text x="439.5" y="412.4" textLength="112.0" lengthAdjust="spacingAndGlyphs">essential oil</text>
<text x="438.5" y="430.7" textLength="65.5" lengthAdjust="spacingAndGlyphs">uptake</text>
<text x="476.5" y="488.6" textLength="118.5" lengthAdjust="spacingAndGlyphs">circuit board</text>
<text x="495.0" y="535.2" textLength="94.5" lengthAdjust="spacingAndGlyphs">plantation</text>
<text x="495.0" y="554.5" textLength="93.5" lengthAdjust="spacingAndGlyphs">hardwood</text>
<text x="495.0" y="573.7" textLength="44.5" lengthAdjust="spacingAndGlyphs">base</text>
<text x="486.5" y="615.8" textLength="111.5" lengthAdjust="spacingAndGlyphs">power input</text>
<text x="466.0" y="658.1" textLength="123.0" lengthAdjust="spacingAndGlyphs">touch-sensor</text>
<text x="464.0" y="676.4" textLength="109.0" lengthAdjust="spacingAndGlyphs">light switch</text>
<text x="0.0" y="513.9" textLength="83.5" lengthAdjust="spacingAndGlyphs">silencing</text>
<text x="37.5" y="532.5" textLength="46.0" lengthAdjust="spacingAndGlyphs">foam</text>
<text x="0.0" y="601.4" textLength="82.5" lengthAdjust="spacingAndGlyphs">air pump</text>
<text x="39.0" y="669.4" textLength="69.5" lengthAdjust="spacingAndGlyphs">volume</text>
<text x="42.0" y="688.2" textLength="68.0" lengthAdjust="spacingAndGlyphs">control</text>
</g>
</svg>
</body></html>
